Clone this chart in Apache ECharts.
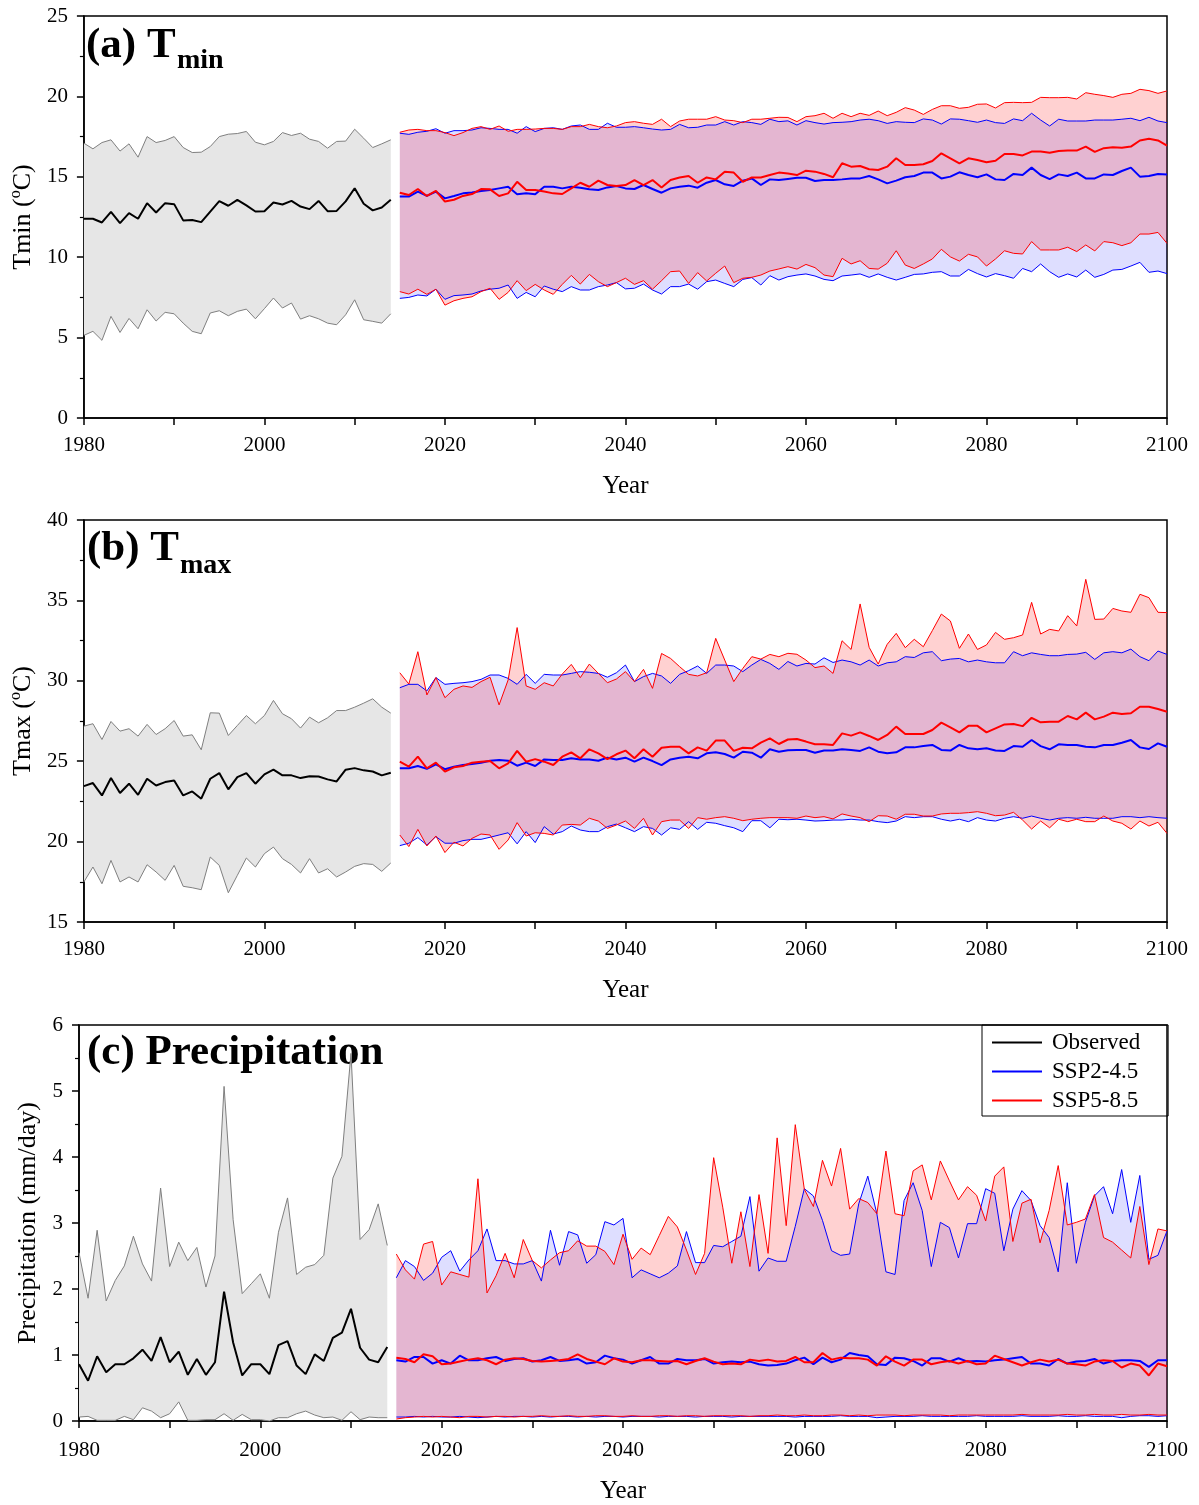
<!DOCTYPE html>
<html>
<head>
<meta charset="utf-8">
<script src="https://cdn.jsdelivr.net/npm/echarts@6/dist/echarts.min.js"></script>
<style>html,body{margin:0;padding:0;background:#fff}#c{width:1199px;height:1505px}</style>
</head>
<body>
<div id="c"></div>
<script>
// ---------------- DATA ----------------
const obsStart = 1980, obsCount = 35;   // 1980-2014
const projStart = 2015, projCount = 86; // 2015-2100
const xTickLabels = [1980, 2000, 2020, 2040, 2060, 2080, 2100];

// (a) Tmin
const tminObsMax = [17.09,16.74,17.13,17.30,16.60,17.05,16.22,17.50,17.13,17.26,17.50,16.82,16.51,16.53,16.88,17.50,17.65,17.69,17.82,17.15,16.99,17.20,17.75,17.57,17.71,17.34,17.20,16.78,17.20,17.22,17.96,17.40,16.82,17.05,17.30];
const tminObsMean = [12.39,12.39,12.16,12.82,12.12,12.74,12.39,13.36,12.78,13.36,13.30,12.29,12.31,12.18,12.84,13.49,13.20,13.57,13.22,12.84,12.86,13.40,13.28,13.50,13.15,12.99,13.50,12.86,12.88,13.47,14.29,13.32,12.91,13.09,13.57];
const tminObsMin = [5.14,5.39,4.83,6.32,5.32,6.19,5.55,6.73,6.03,6.57,6.48,5.90,5.39,5.24,6.53,6.67,6.36,6.63,6.77,6.17,6.80,7.46,6.84,7.15,6.15,6.36,6.17,5.90,5.80,6.42,7.35,6.11,6.01,5.90,6.48];

const tminS245Max = [17.71,17.64,17.77,17.83,17.99,17.71,17.87,17.87,17.91,18.05,18.01,17.95,17.95,17.71,18.12,17.81,18.01,18.05,17.95,18.16,18.22,17.95,17.95,18.33,18.08,18.08,18.12,18.05,17.97,17.91,17.95,18.26,18.05,18.08,18.22,18.22,18.43,18.22,18.43,18.37,18.26,18.58,18.43,
 18.48,
 18.22,18.49,18.37,18.28,18.37,18.39,18.43,18.53,18.58,18.49,18.32,18.43,18.39,18.37,18.60,18.53,18.28,18.60,18.58,18.49,18.39,18.53,18.37,18.32,18.60,18.49,18.95,18.53,18.16,18.58,18.47,18.47,18.47,18.53,18.53,18.53,18.58,18.64,18.49,18.70,18.47,18.37];
const tminS245Mean = [13.77,13.77,14.08,13.81,14.08,13.66,13.81,13.97,14.03,14.12,14.18,14.28,14.38,13.91,13.97,13.91,14.38,14.38,14.28,14.38,14.32,14.22,14.18,14.34,14.43,14.28,14.24,14.49,14.24,14.01,14.28,14.38,14.45,14.32,14.63,14.80,14.53,14.43,14.76,14.90,14.49,14.84,14.80,
 14.87,
 14.94,14.94,14.74,14.80,14.80,14.84,14.90,14.90,15.05,14.84,14.59,14.76,14.97,15.05,15.26,15.26,14.90,15.01,15.28,15.11,14.97,15.15,14.84,14.80,15.18,15.11,15.57,15.11,14.86,15.15,15.05,15.26,14.90,14.90,15.15,15.11,15.36,15.57,15.01,15.05,15.18,15.15];
const tminS245Min = [7.44,7.50,7.65,7.59,8.01,7.38,7.61,7.65,7.71,7.90,8.01,8.07,8.27,7.44,7.81,7.54,8.21,8.01,7.86,8.17,7.96,7.96,8.17,8.27,8.42,8.03,8.07,8.33,7.96,7.71,8.17,8.17,8.33,8.01,8.48,8.58,8.37,8.17,8.62,8.73,8.27,8.85,8.58,
 8.79,
 8.89,8.96,8.83,8.62,8.54,8.83,8.89,8.96,8.75,8.96,8.75,8.58,8.75,8.93,8.96,9.06,9.10,8.83,8.83,9.24,8.98,8.77,8.98,8.85,8.69,9.30,9.10,9.58,9.10,8.75,8.96,8.77,9.20,8.75,8.93,9.20,9.24,9.45,9.68,9.06,9.14,8.98];

const tminS585Max = [17.77,17.91,17.95,17.87,17.87,17.75,17.56,17.75,18.01,18.12,17.95,18.16,17.83,17.95,17.95,17.97,18.01,18.01,17.95,18.12,18.12,18.26,18.12,18.05,18.16,18.37,18.43,18.33,18.26,18.58,18.12,18.47,18.58,18.58,18.58,18.74,18.53,18.49,18.37,18.58,18.58,18.64,18.70,
 18.69,
 18.43,18.74,18.80,18.95,18.64,18.95,18.74,18.95,18.82,19.09,18.80,19.01,19.30,19.15,18.88,19.19,19.42,19.42,19.26,19.32,19.51,19.53,19.28,19.61,19.63,19.61,19.63,19.94,19.92,19.92,19.94,19.84,20.23,20.13,20.05,19.94,20.13,20.19,20.44,20.36,20.19,20.34];
const tminS585Mean = [14.01,13.87,14.24,13.81,14.12,13.46,13.57,13.81,13.93,14.24,14.22,13.81,13.97,14.69,14.18,14.18,14.08,13.97,13.93,14.28,14.63,14.38,14.76,14.49,14.43,14.49,14.80,14.49,14.80,14.34,14.80,14.96,15.05,14.63,14.96,14.84,15.32,15.26,14.69,14.96,14.96,15.11,15.26,
 15.20,
 15.11,15.38,15.32,15.18,14.97,15.84,15.63,15.67,15.47,15.42,15.63,16.15,15.73,15.73,15.78,15.98,16.46,16.15,15.84,16.15,16.05,15.90,16.00,16.42,16.42,16.33,16.57,16.57,16.50,16.61,16.63,16.63,16.88,16.55,16.78,16.84,16.80,16.88,17.26,17.36,17.26,16.94];
const tminS585Min = [7.86,7.71,8.01,7.69,8.01,7.02,7.29,7.44,7.54,7.86,8.07,7.38,7.81,8.54,7.92,8.31,7.96,7.69,8.31,8.87,8.33,8.93,8.48,8.17,8.42,8.69,8.31,8.54,8.01,8.54,9.10,9.14,8.37,9.04,8.52,9.00,9.45,8.42,8.69,8.75,8.89,9.14,9.27,
 9.41,
 9.26,9.55,9.35,8.89,8.79,9.93,9.58,9.78,9.30,9.26,9.62,10.40,9.51,9.30,9.58,9.89,10.49,10.02,9.76,10.18,10.02,9.45,9.89,10.40,10.24,10.20,10.97,10.45,10.45,10.45,10.62,10.35,10.76,10.39,10.97,10.90,10.72,10.90,11.44,11.44,11.54,10.86];

// (b) Tmax
const tmaxObsMax = [27.18,27.33,26.35,27.47,26.87,27.02,26.56,27.29,26.66,27.02,27.53,26.56,26.64,25.71,28.01,27.99,26.60,27.22,27.84,27.33,27.84,28.78,27.95,27.64,27.06,27.74,27.39,27.70,28.15,28.15,28.36,28.61,28.88,28.36,27.99];
const tmaxObsMean = [23.45,23.64,22.87,23.95,23.02,23.60,22.91,23.91,23.49,23.70,23.80,22.87,23.12,22.67,23.91,24.26,23.25,24.01,24.26,23.60,24.18,24.47,24.12,24.12,23.95,24.07,24.05,23.87,23.74,24.47,24.57,24.43,24.36,24.12,24.28];
const tmaxObsMin = [17.49,18.42,17.38,18.83,17.49,17.80,17.49,18.56,18.11,17.59,18.52,17.22,17.13,17.01,19.04,18.52,16.82,17.90,18.98,18.42,19.25,19.66,18.94,18.58,18.05,18.94,18.05,18.31,17.80,18.11,18.46,18.63,18.58,18.15,18.67];

const tmaxS245Max = [29.57,29.78,29.78,29.37,30.20,29.78,29.84,29.88,29.95,30.09,30.36,30.36,30.15,29.78,30.40,29.84,30.40,30.36,30.36,30.46,30.57,30.53,30.46,30.22,30.50,30.98,29.95,30.26,30.46,30.30,29.84,30.40,30.63,30.92,30.46,30.98,30.98,30.92,30.57,30.98,31.33,31.08,30.71,
 31.20,
 30.92,31.08,31.04,31.43,31.14,31.29,31.18,30.98,31.29,30.92,31.12,31.18,31.50,31.45,31.74,31.81,31.25,31.35,31.39,31.18,31.29,31.18,31.12,31.12,31.81,31.56,31.74,31.64,31.56,31.56,31.64,31.66,31.77,31.33,31.74,31.81,31.74,31.97,31.50,31.25,31.85,31.64];
const tmaxS245Mean = [24.56,24.56,24.70,24.52,24.81,24.50,24.66,24.76,24.83,24.91,25.03,25.07,25.03,24.72,24.91,24.70,25.11,25.07,25.07,25.18,25.11,25.11,25.03,25.22,25.11,25.22,24.97,25.22,25.01,24.76,25.11,25.22,25.28,25.18,25.49,25.55,25.45,25.22,25.59,25.53,25.22,25.74,25.59,
 25.68,
 25.70,25.70,25.53,25.66,25.66,25.74,25.70,25.64,25.86,25.59,25.49,25.55,25.86,25.86,25.94,26.01,25.70,25.66,26.01,25.80,25.74,25.80,25.66,25.64,25.94,25.90,26.32,25.94,25.74,26.05,26.01,26.01,25.90,25.86,26.01,26.01,26.15,26.32,25.86,25.76,26.11,25.90];
const tmaxS245Min = [19.75,19.90,20.25,19.79,20.31,19.90,19.90,20.06,20.14,20.14,20.27,20.41,20.55,19.86,20.62,19.94,20.93,20.47,20.62,20.97,20.72,20.62,20.62,20.93,21.09,20.86,20.62,20.93,20.82,20.41,20.86,20.76,21.24,20.76,21.20,21.14,20.99,20.86,20.62,21.30,21.30,20.86,21.39,
 21.36,
 21.39,21.34,21.28,21.30,21.34,21.34,21.39,21.34,21.34,21.24,21.18,21.28,21.55,21.49,21.55,21.55,21.39,21.28,21.39,21.24,21.49,21.34,21.28,21.45,21.55,21.45,21.59,21.45,21.34,21.45,21.49,21.45,21.51,21.45,21.45,21.45,21.55,21.55,21.49,21.55,21.49,21.45];

const tmaxS585Max = [30.50,29.80,31.81,29.12,30.20,28.95,29.47,29.68,29.59,29.95,30.22,28.50,30.05,33.31,29.68,29.47,29.88,29.68,30.42,31.02,30.20,31.04,30.46,29.88,30.11,30.57,29.95,30.71,29.53,31.70,31.39,30.88,30.40,30.30,30.50,32.64,31.29,29.95,30.77,31.50,31.35,31.64,31.50,
 31.71,31.65,31.29,30.82,30.92,30.46,32.49,31.95,34.78,32.08,31.04,32.27,32.95,32.06,32.58,32.12,33.12,34.15,33.72,32.02,32.91,31.95,32.23,33.01,32.58,32.68,32.85,34.88,32.91,33.20,33.10,34.05,33.41,36.31,33.82,33.84,34.50,34.34,34.26,35.38,35.17,34.26,34.24];
const tmaxS585Mean = [24.97,24.66,25.28,24.56,24.91,24.35,24.62,24.70,24.91,24.97,25.01,24.56,24.87,25.64,24.97,25.13,24.97,24.76,25.28,25.55,25.18,25.74,25.49,25.13,25.43,25.66,25.18,25.74,25.28,25.84,25.90,25.90,25.49,25.86,25.66,26.28,26.28,25.64,25.84,25.80,26.15,26.42,26.07,
 26.35,
 26.38,26.22,26.05,26.05,26.01,26.73,26.59,26.79,26.57,26.32,26.63,27.15,26.69,26.69,26.69,26.94,27.40,27.11,26.79,27.20,27.20,26.79,27.04,27.29,27.31,27.18,27.70,27.42,27.46,27.46,27.81,27.60,28.02,27.60,27.77,28.02,27.93,27.98,28.39,28.39,28.25,28.08];
const tmaxS585Min = [20.41,19.69,20.76,19.73,20.35,19.32,19.96,19.73,20.20,20.47,20.41,19.52,20.10,21.18,20.35,20.55,20.51,20.41,21.03,21.07,21.03,21.45,21.28,20.82,21.03,21.28,20.82,21.45,20.41,21.24,21.34,21.34,20.82,21.49,21.39,21.49,21.55,21.45,21.30,21.39,21.45,21.49,21.49,
 21.49,
 21.45,21.59,21.49,21.55,21.41,21.72,21.59,21.49,21.24,21.61,21.59,21.39,21.70,21.70,21.59,21.59,21.72,21.76,21.76,21.80,21.86,21.76,21.61,21.65,21.82,21.34,20.78,21.28,20.86,21.39,21.24,21.39,21.24,21.24,21.59,21.28,21.14,20.78,21.28,20.97,21.20,20.51];

// (c) Precipitation
const precObsMax = [2.55,1.86,2.89,1.82,2.13,2.35,2.80,2.38,2.12,3.53,2.34,2.71,2.43,2.63,2.03,2.50,5.07,3.05,1.93,2.08,2.23,1.86,2.86,3.38,2.22,2.33,2.37,2.51,3.68,4.01,5.57,2.75,2.90,3.29,2.66];
const precObsMean = [0.86,0.61,0.98,0.74,0.86,0.86,0.95,1.08,0.91,1.27,0.89,1.05,0.70,0.94,0.70,0.89,1.96,1.19,0.69,0.86,0.86,0.71,1.15,1.21,0.84,0.71,1.01,0.91,1.26,1.34,1.70,1.11,0.93,0.89,1.12];
const precObsMin = [0.06,0.07,0.01,0.01,0.01,0.07,0.02,0.20,0.15,0.05,0.11,0.29,0.01,0.01,0.02,0.02,0.11,0.01,0.10,0.02,0.02,0.00,0.05,0.05,0.11,0.15,0.09,0.05,0.06,0.01,0.14,0.02,0.06,0.05,0.05];

const precS245Max = [2.17,2.43,2.34,2.13,2.24,2.48,2.58,2.27,2.44,2.58,2.91,2.43,2.43,2.38,2.38,2.43,2.12,2.89,2.36,2.87,2.82,2.39,2.52,3.02,2.97,3.07,2.17,2.29,2.23,2.17,2.24,2.35,2.87,2.40,2.40,2.66,2.64,2.72,2.80,3.40,2.27,2.47,2.42,
 2.42,2.95,
 3.52,3.41,3.04,2.58,2.51,2.53,3.29,3.71,3.14,2.26,2.22,3.34,3.61,3.19,2.34,3.01,2.93,2.47,2.99,2.99,3.52,3.45,2.58,3.21,3.49,3.34,2.96,2.78,2.26,3.61,2.39,3.01,3.41,3.55,3.14,3.81,3.01,3.72,2.45,2.51,2.88];
const precS245Mean = [0.92,0.90,0.97,0.97,0.87,0.92,0.87,0.99,0.92,0.92,0.95,0.97,0.91,0.94,0.95,0.90,0.92,0.97,0.91,0.92,0.94,0.87,0.89,0.99,0.95,0.93,0.87,0.92,0.97,0.87,0.87,0.94,0.92,0.92,0.94,0.87,0.89,0.90,0.89,0.90,0.86,0.84,0.85,
 0.87,
 0.92,0.96,0.86,0.96,0.89,0.93,1.03,1.00,0.98,0.86,0.85,0.96,0.95,0.91,0.84,0.95,0.95,0.90,0.95,0.90,0.91,0.90,0.92,0.93,0.95,0.97,0.87,0.87,0.84,0.94,0.87,0.90,0.91,0.94,0.87,0.91,0.92,0.92,0.91,0.82,0.92,0.92];
const precS245Min = [0.06,0.06,0.07,0.06,0.07,0.06,0.06,0.07,0.06,0.05,0.06,0.07,0.06,0.07,0.07,0.06,0.07,0.06,0.07,0.07,0.06,0.07,0.06,0.07,0.07,0.06,0.07,0.07,0.07,0.06,0.07,0.07,0.07,0.06,0.07,0.07,0.07,0.06,0.07,0.07,0.07,0.07,0.07,
 0.07,0.06,0.07,0.07,0.07,0.07,0.08,0.07,0.07,0.07,0.05,0.06,0.07,0.07,0.07,0.08,0.07,0.07,0.07,0.07,0.07,0.08,0.07,0.07,0.07,0.07,0.08,0.07,0.07,0.07,0.08,0.07,0.07,0.08,0.07,0.07,0.07,0.05,0.07,0.08,0.08,0.07,0.08];

const precS585Max = [2.53,2.29,2.15,2.68,2.72,2.06,2.26,2.22,2.18,3.67,1.94,2.20,2.54,2.17,2.75,2.43,2.32,2.44,2.55,2.58,2.73,2.65,2.65,2.57,2.37,2.83,2.45,2.62,2.52,2.81,3.10,2.94,2.59,2.22,2.54,3.99,3.24,2.39,3.17,2.34,3.43,2.54,4.29,
 2.96,
 4.49,3.51,3.25,3.95,3.56,4.13,3.21,3.37,3.31,3.14,4.09,3.14,3.11,3.79,3.88,3.35,3.94,3.64,3.35,3.55,3.42,3.03,3.71,3.85,2.72,3.30,3.36,2.70,3.19,3.87,2.97,3.01,3.06,3.43,2.78,2.71,2.59,2.47,3.25,2.37,2.91,2.88];
const precS585Mean = [0.96,0.94,0.89,1.01,0.98,0.86,0.87,0.90,0.93,0.95,0.92,0.86,0.93,0.95,0.94,0.91,0.90,0.91,0.92,0.94,1.01,0.94,0.90,0.86,0.95,0.90,0.89,0.92,0.92,0.91,0.90,0.91,0.86,0.91,0.95,0.90,0.86,0.87,0.86,0.93,0.91,0.93,0.90,
 0.91,
 0.97,0.89,0.89,1.03,0.93,0.96,0.95,0.95,0.93,0.84,0.98,0.90,0.84,0.93,0.93,0.86,0.89,0.91,0.87,0.91,0.86,0.87,0.99,0.94,0.89,0.84,0.89,0.93,0.90,0.93,0.87,0.86,0.84,0.90,0.92,0.91,0.81,0.87,0.84,0.69,0.87,0.83];
const precS585Min = [0.03,0.05,0.06,0.07,0.06,0.07,0.06,0.05,0.07,0.07,0.06,0.07,0.07,0.06,0.07,0.07,0.08,0.07,0.07,0.08,0.07,0.07,0.08,0.08,0.07,0.07,0.08,0.07,0.07,0.08,0.08,0.07,0.08,0.08,0.07,0.08,0.08,0.08,0.08,0.07,0.08,0.08,0.09,
 0.08,0.08,0.09,0.08,0.08,0.09,0.09,0.08,0.09,0.08,0.09,0.09,0.09,0.08,0.09,0.09,0.09,0.09,0.08,0.09,0.09,0.09,0.09,0.09,0.09,0.09,0.10,0.09,0.09,0.09,0.09,0.10,0.09,0.09,0.10,0.09,0.09,0.10,0.09,0.09,0.10,0.09,0.09];

// ---------------- CHART ----------------
const FONT = '"Liberation Serif","Times New Roman",serif';
const obsYears = Array.from({length: obsCount}, (_, i) => obsStart + i);
const projYears = Array.from({length: projCount}, (_, i) => projStart + i);

const panels = [
  {top: 16,   ymin: 0,  ymax: 25, yint: 5, yname: '{a|Tmin (}{s|o}{a|C)}', nameGap: 43,
   obs: [tminObsMin, tminObsMean, tminObsMax], s245: [tminS245Min, tminS245Mean, tminS245Max], s585: [tminS585Min, tminS585Mean, tminS585Max]},
  {top: 520,  ymin: 15, ymax: 40, yint: 5, yname: '{a|Tmax (}{s|o}{a|C)}', nameGap: 43,
   obs: [tmaxObsMin, tmaxObsMean, tmaxObsMax], s245: [tmaxS245Min, tmaxS245Mean, tmaxS245Max], s585: [tmaxS585Min, tmaxS585Mean, tmaxS585Max]},
  {top: 1025, ymin: 0,  ymax: 6,  yint: 1, yname: '{a|Precipitation (mm/day)}', nameGap: 32,
   obs: [precObsMin, precObsMean, precObsMax], s245: [precS245Min, precS245Mean, precS245Max], s585: [precS585Min, precS585Mean, precS585Max]}
];

const grids = [], xAxes = [], yAxes = [], series = [];
function pairs(years, vals) { return vals.map((v, i) => [years[i], v]); }

function addBand(g, years, lo, hi, fill) {
  series.push({
    type: 'custom', xAxisIndex: g, yAxisIndex: g, silent: true, clip: true, z: 2,
    data: years.map((y, i) => [y, lo[i], hi[i]]),
    encode: {x: 0, y: [1, 2]},
    renderItem: function (params, api) {
      if (params.dataIndex !== 0) return null;
      const topPts = hi.map((v, i) => api.coord([years[i], v]));
      const botPts = lo.map((v, i) => api.coord([years[i], v])).reverse();
      return {type: 'polygon', shape: {points: topPts.concat(botPts)}, style: {fill: fill}, silent: true};
    }
  });
}
function addLine(g, name, years, vals, color, width) {
  series.push({type: 'line', name: name, xAxisIndex: g, yAxisIndex: g, data: pairs(years, vals),
    symbol: 'none', silent: true, lineStyle: {color: color, width: width}, itemStyle: {color: color}, z: 3});
}

panels.forEach((p, g) => {
  grids.push({left: 79, width: 1088, top: p.top, height: 402, show: true, borderColor: '#000', borderWidth: 1.5, backgroundColor: 'transparent'});
  xAxes.push({type: 'value', gridIndex: g, min: 1980, max: 2100, interval: 10,
    name: 'Year', nameLocation: 'middle', nameGap: g === 2 ? 58 : 56,
    nameTextStyle: {fontFamily: FONT, fontSize: 25, color: '#000'},
    axisLine: {lineStyle: {color: '#000', width: 1.5}},
    axisTick: {inside: false, length: 7, lineStyle: {color: '#000', width: 1.5}},
    axisLabel: {fontFamily: FONT, fontSize: 21, color: '#000', margin: g === 2 ? 19 : 17,
      formatter: v => (xTickLabels.indexOf(v) >= 0 ? String(v) : '')},
    splitLine: {show: false}});
  yAxes.push({type: 'value', gridIndex: g, min: p.ymin, max: p.ymax, interval: p.yint,
    name: p.yname, nameLocation: 'middle', nameGap: p.nameGap, nameRotate: 90,
    nameTextStyle: {rich: {a: {fontFamily: FONT, fontSize: 26, color: '#000', lineHeight: 30},
                           s: {fontFamily: FONT, fontSize: 16, color: '#000', lineHeight: 30, verticalAlign: 'top', padding: [0, 0, 10, 0]}}},
    axisLine: {lineStyle: {color: '#000', width: 1.5}},
    axisTick: {inside: false, length: 7, lineStyle: {color: '#000', width: 1.5}},
    minorTick: {show: true, splitNumber: 2, length: 4, lineStyle: {color: '#000', width: 1.2}},
    axisLabel: {fontFamily: FONT, fontSize: 21, color: '#000', margin: 16},
    splitLine: {show: false}, minorSplitLine: {show: false}});

  // observed
  addBand(g, obsYears, p.obs[0], p.obs[2], '#e6e6e6');
  addLine(g, 'obsmax' + g, obsYears, p.obs[2], '#7f7f7f', 1);
  addLine(g, 'obsmin' + g, obsYears, p.obs[0], '#7f7f7f', 1);
  addLine(g, 'Observed', obsYears, p.obs[1], '#000', 2);
  // SSP2-4.5
  addBand(g, projYears, p.s245[0], p.s245[2], 'rgba(0,0,255,0.13)');
  addLine(g, 'bmax' + g, projYears, p.s245[2], '#0000ff', 1);
  addLine(g, 'bmin' + g, projYears, p.s245[0], '#0000ff', 1);
  addLine(g, 'SSP2-4.5', projYears, p.s245[1], '#0000ff', 2);
  // SSP5-8.5
  addBand(g, projYears, p.s585[0], p.s585[2], 'rgba(255,0,0,0.18)');
  addLine(g, 'rmax' + g, projYears, p.s585[2], '#ff0000', 1);
  addLine(g, 'rmin' + g, projYears, p.s585[0], '#ff0000', 1);
  addLine(g, 'SSP5-8.5', projYears, p.s585[1], '#ff0000', 2);
});

const titleFont = 'bold 43px ' + FONT;
const subFont = 'bold 28px ' + FONT;
const chart = echarts.init(document.getElementById('c'), null, {renderer: 'canvas'});
chart.setOption({
  animation: false,
  backgroundColor: '#fff',
  grid: grids, xAxis: xAxes, yAxis: yAxes, series: series,
  legend: {
    data: ['Observed', 'SSP2-4.5', 'SSP5-8.5'], orient: 'vertical', left: 982, top: 1025,
    padding: [6, 28, 4, 10], itemGap: 6, itemWidth: 50, itemHeight: 2, icon: 'rect',
    borderColor: '#000', borderWidth: 1, selectedMode: false,
    textStyle: {fontFamily: FONT, fontSize: 23, color: '#000', padding: [0, 0, 0, 5]}
  },
  graphic: [
    {type: 'text', left: 86, top: 24, style: {text: '(a) T', font: titleFont, fill: '#000'}},
    {type: 'text', left: 177, top: 47, style: {text: 'min', font: subFont, fill: '#000'}},
    {type: 'text', left: 87, top: 527, style: {text: '(b) T', font: titleFont, fill: '#000'}},
    {type: 'text', left: 180, top: 552, style: {text: 'max', font: subFont, fill: '#000'}},
    {type: 'text', left: 87, top: 1031, style: {text: '(c) Precipitation', font: titleFont, fill: '#000'}}
  ]
});
</script>
</body>
</html>
